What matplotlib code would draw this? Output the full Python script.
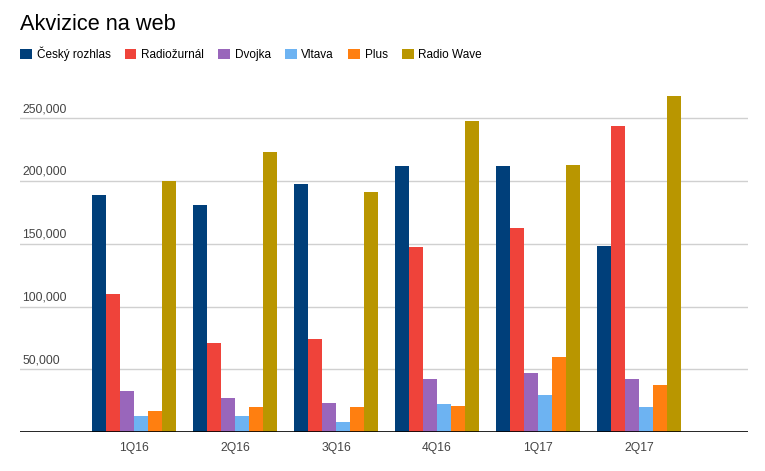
import matplotlib.pyplot as plt
import numpy as np

plt.rcParams['font.family'] = ['Liberation Sans', 'DejaVu Sans']

quarters = ['1Q16', '2Q16', '3Q16', '4Q16', '1Q17', '2Q17']
stations = ['Český rozhlas', 'Radiožurnál', 'Dvojka', 'Vltava', 'Plus', 'Radio Wave']
cesky_rozhlas = [189000, 181000, 197800, 212100, 212100, 148300]
radiozurnal = [110000, 71000, 74200, 147500, 162700, 244000]
dvojka = [32700, 27100, 23100, 42300, 47000, 42300]
vltava = [12800, 12800, 8000, 22300, 29500, 19900]
plus = [16700, 19900, 19900, 20700, 59800, 37500]
radio_wave = [200400, 223300, 191400, 248000, 212900, 267900]
yticks = [50000, 100000, 150000, 200000, 250000]

series = [cesky_rozhlas, radiozurnal, dvojka, vltava, plus, radio_wave]
colors = ['#003f7a', '#ef433a', '#9966bb', '#6db3f2', '#ff7f10', '#b99600']

fig = plt.figure(figsize=(7.65, 4.71), dpi=100)
ax = fig.add_axes([20/765, 1-432/471, 728/765, 345/471])

x = np.arange(len(quarters))
w = 0.1386
for i, (vals, c) in enumerate(zip(series, colors)):
    ax.bar(x + (i - 2.5) * w, vals, width=w, color=c, label=stations[i], zorder=3)

ax.set_xlim(-1.129, 6.079)
ax.set_ylim(0, 275000)

# mřížka a popisky osy y nad čarou
for t in yticks:
    ax.axhline(t, color='#d0d0d0', lw=1, zorder=1)
    ax.text(0.003, t + 2500, f'{t:,}', transform=ax.get_yaxis_transform(),
            ha='left', va='bottom', fontsize=8.7, color='#444444')
ax.axhline(0, color='black', lw=1.2, zorder=4)

ax.set_yticks([])
ax.set_xticks(x)
ax.set_xticklabels(quarters, fontsize=8.7, color='#444444')
ax.tick_params(axis='x', length=0, pad=7)
for s in ax.spines.values():
    s.set_visible(False)

fig.text(20/765, 1-24/471, 'Akvizice na web', fontsize=15.7, va='center', ha='left', color='black')

fig.legend(loc='center left', bbox_to_anchor=(20/765, 1-54/471), ncol=6, frameon=False,
           fontsize=8.5, handlelength=1.0, handleheight=1.0, handletextpad=0.4,
           columnspacing=1.2, borderaxespad=0, borderpad=0)

fig.savefig('out.png', dpi=100)
